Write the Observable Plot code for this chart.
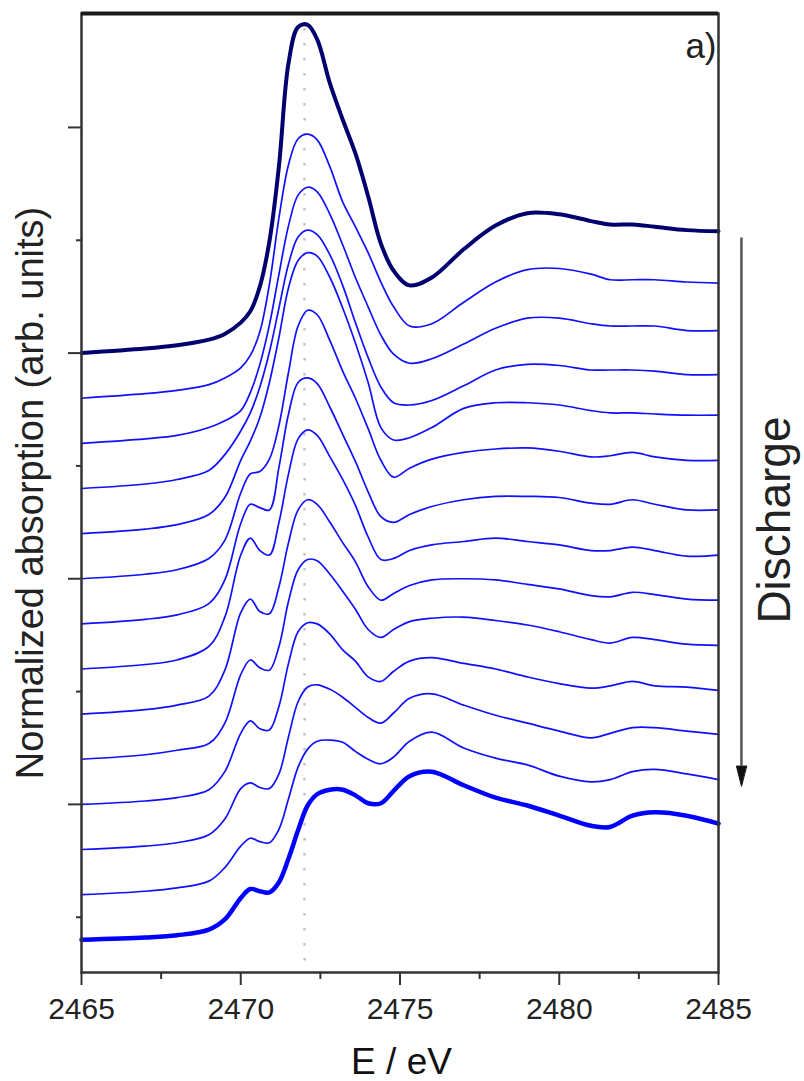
<!DOCTYPE html>
<html>
<head>
<meta charset="utf-8">
<script src="https://cdn.jsdelivr.net/npm/d3@7"></script>
<script src="https://cdn.jsdelivr.net/npm/@observablehq/plot@0.6"></script>
<style>
  html, body { margin: 0; padding: 0; background: #fff; }
  #chart svg { display: block; }
</style>
</head>
<body>
<div id="chart"></div>
<script>
// Photon energy grid (eV)
const energyEV = [2465, 2467, 2468, 2469, 2469.5, 2470, 2470.3, 2470.6, 2470.9, 2471.2, 2471.5, 2471.8,
  2472.1, 2472.4, 2472.8, 2473.2, 2473.6, 2474, 2474.4, 2474.8, 2475.3, 2476, 2477, 2478, 2479, 2480,
  2481, 2481.6, 2482.3, 2483, 2484, 2485];

// Normalized absorption of each spectrum (top = start of discharge, bottom = end)
const spec00 = [0, 0.04, 0.07, 0.12, 0.17, 0.27, 0.37, 0.59, 0.99, 1.66, 2.57, 2.89, 2.91, 2.78, 2.39, 2.07, 1.77, 1.39, 0.97, 0.73, 0.60, 0.67, 0.92, 1.13, 1.24, 1.23, 1.17, 1.14, 1.14, 1.12, 1.09, 1.08];
const spec01 = [0, 0.04, 0.07, 0.12, 0.18, 0.27, 0.38, 0.59, 1.01, 1.60, 2.07, 2.30, 2.34, 2.29, 2.05, 1.74, 1.52, 1.29, 1.03, 0.81, 0.64, 0.66, 0.85, 1.03, 1.14, 1.15, 1.10, 1.05, 1.05, 1.05, 1.03, 1.02];
const spec02 = [0, 0.04, 0.07, 0.14, 0.20, 0.29, 0.45, 0.70, 1.05, 1.50, 1.93, 2.20, 2.27, 2.23, 2.03, 1.76, 1.47, 1.21, 0.96, 0.79, 0.71, 0.75, 0.88, 1.02, 1.11, 1.11, 1.06, 1.04, 1.04, 1.04, 1.00, 1.00];
const spec03 = [0, 0.04, 0.08, 0.16, 0.30, 0.51, 0.67, 0.90, 1.21, 1.60, 1.99, 2.23, 2.29, 2.25, 2.07, 1.80, 1.47, 1.16, 0.90, 0.76, 0.74, 0.78, 0.91, 1.05, 1.10, 1.09, 1.05, 1.05, 1.05, 1.04, 1.01, 1.01];
const spec04 = [0, 0.04, 0.08, 0.17, 0.32, 0.65, 0.82, 1.03, 1.34, 1.74, 2.18, 2.42, 2.49, 2.46, 2.27, 2.00, 1.69, 1.34, 0.94, 0.83, 0.85, 0.94, 1.11, 1.16, 1.16, 1.14, 1.09, 1.07, 1.07, 1.06, 1.05, 1.05];
const spec05 = [0, 0.04, 0.08, 0.18, 0.34, 0.76, 0.93, 0.95, 1.06, 1.36, 1.83, 2.24, 2.38, 2.34, 2.11, 1.84, 1.60, 1.33, 1.05, 0.90, 0.98, 1.06, 1.12, 1.15, 1.16, 1.13, 1.08, 1.09, 1.12, 1.08, 1.05, 1.05];
const spec06 = [0, 0.04, 0.08, 0.18, 0.39, 0.89, 1.06, 1.03, 1.01, 1.39, 1.86, 2.14, 2.18, 2.13, 1.92, 1.68, 1.44, 1.17, 0.95, 0.90, 0.97, 1.04, 1.10, 1.13, 1.13, 1.12, 1.07, 1.06, 1.10, 1.06, 1.01, 1.01];
const spec07 = [0, 0.04, 0.08, 0.20, 0.46, 1.01, 1.16, 1.05, 1.01, 1.30, 1.73, 2.04, 2.12, 2.07, 1.88, 1.68, 1.45, 1.17, 0.97, 0.98, 1.05, 1.10, 1.13, 1.16, 1.13, 1.10, 1.05, 1.05, 1.08, 1.05, 1.00, 1.01];
const spec08 = [0, 0.04, 0.08, 0.16, 0.39, 0.90, 1.02, 0.91, 0.89, 1.13, 1.52, 1.81, 1.90, 1.86, 1.70, 1.52, 1.35, 1.13, 1.01, 1.07, 1.14, 1.19, 1.20, 1.19, 1.15, 1.11, 1.05, 1.04, 1.08, 1.06, 1.02, 1.01];
const spec09 = [0, 0.04, 0.08, 0.14, 0.32, 0.75, 0.88, 0.81, 0.79, 1.00, 1.40, 1.68, 1.77, 1.76, 1.64, 1.49, 1.33, 1.15, 1.08, 1.15, 1.22, 1.25, 1.26, 1.23, 1.19, 1.13, 1.06, 1.03, 1.08, 1.06, 1.02, 1.01];
const spec10 = [0, 0.03, 0.06, 0.13, 0.29, 0.63, 0.74, 0.67, 0.66, 0.87, 1.25, 1.53, 1.61, 1.60, 1.51, 1.37, 1.27, 1.13, 1.09, 1.18, 1.27, 1.30, 1.25, 1.20, 1.13, 1.07, 1.03, 1.05, 1.09, 1.05, 1.04, 1.01];
const spec11 = [0, 0.03, 0.06, 0.13, 0.27, 0.54, 0.59, 0.55, 0.54, 0.67, 1.00, 1.31, 1.44, 1.46, 1.42, 1.35, 1.26, 1.17, 1.12, 1.21, 1.34, 1.38, 1.28, 1.19, 1.12, 1.05, 0.99, 1.03, 1.08, 1.08, 1.05, 1.02];
const spec12 = [0, 0.03, 0.06, 0.12, 0.24, 0.43, 0.50, 0.47, 0.46, 0.58, 0.85, 1.13, 1.29, 1.36, 1.37, 1.35, 1.27, 1.20, 1.16, 1.22, 1.36, 1.44, 1.30, 1.21, 1.15, 1.05, 1.00, 1.02, 1.09, 1.11, 1.07, 1.02];
const spec13 = [0, 0.02, 0.04, 0.09, 0.18, 0.37, 0.45, 0.43, 0.42, 0.51, 0.72, 0.97, 1.19, 1.29, 1.33, 1.33, 1.28, 1.21, 1.21, 1.32, 1.45, 1.49, 1.37, 1.26, 1.19, 1.10, 1.01, 1.00, 1.10, 1.13, 1.10, 1.03];

// Vertical stacking offsets
const offsets = [5.0, 4.6, 4.2, 3.8, 3.4, 3.0, 2.6, 2.2, 1.8, 1.4, 1.0, 0.6, 0.2, -0.2];

// Axis ticks
const xMajorTicks = [2465, 2470, 2475, 2480, 2485];
const xMinorTicks = [2467.5, 2472.5, 2477.5, 2482.5];
const yMajorTicks = [1, 3, 5, 7];
const yMinorTicks = [0, 2, 4, 6];
const xDomain = [2465, 2485];
const yDomain = [-0.49, 8.01];

// Annotations
const referenceEnergy = 2472.0;
const arrowE = 2485.72, arrowTop = 6.02, arrowHeadBase = 1.34;
const dischargeE = 2486.79, dischargeY = 3.52;
const panelLabel = "a)";

const spectra = [spec00, spec01, spec02, spec03, spec04, spec05, spec06, spec07, spec08, spec09, spec10, spec11, spec12, spec13];
const rows = spectra.flatMap((s, i) => s.map((v, k) => ({E: energyEV[k], A: offsets[i] + v, series: i})));
const nLast = spectra.length - 1;
const topRows = rows.filter(d => d.series === 0);
const bottomRows = rows.filter(d => d.series === nLast);
const midRows = rows.filter(d => d.series > 0 && d.series < nLast);

const triangle = {
  draw(context, l, r) {
    context.moveTo(-r, 0);
    context.lineTo(r, 0);
    context.lineTo(0, -l);
    context.closePath();
  }
};

const font = "'Liberation Sans', Arial, Helvetica, sans-serif";

const chart = Plot.plot({
  width: 804,
  height: 1081,
  marginLeft: 81,
  marginRight: 86,
  marginTop: 13,
  marginBottom: 109,
  x: {domain: xDomain},
  y: {domain: yDomain},
  style: {fontFamily: font, background: "#fff", color: "#222", overflow: "visible"},
  marks: [
    Plot.ruleX([referenceEnergy], {stroke: "#bdbdbd", strokeWidth: 2.2, strokeDasharray: "2.5,12.5"}),
    Plot.line(midRows, {x: "E", y: "A", z: "series", stroke: "#1010ff", strokeWidth: 1.7, curve: "catmull-rom"}),
    Plot.line(topRows, {x: "E", y: "A", stroke: "#00006e", strokeWidth: 4, curve: "catmull-rom"}),
    Plot.line(bottomRows, {x: "E", y: "A", stroke: "#0000ff", strokeWidth: 4.5, curve: "catmull-rom"}),
    Plot.frame({stroke: "#333", strokeWidth: 2.5}),
    Plot.ruleY([yDomain[1]], {stroke: "#1a1a1a", strokeWidth: 4}),
    Plot.axisX({ticks: xMajorTicks, tickSize: 13, tickPadding: 12, fontSize: 30, tickFormat: d => String(d), label: null, stroke: "#333", strokeWidth: 2, fill: "#222"}),
    Plot.axisX({ticks: xMinorTicks, tickSize: 7, tickFormat: () => "", label: null, stroke: "#333", strokeWidth: 2}),
    Plot.axisY({ticks: yMajorTicks, tickSize: 13, tickFormat: () => "", label: null, stroke: "#333", strokeWidth: 2}),
    Plot.axisY({ticks: yMinorTicks, tickSize: 5, tickFormat: () => "", label: null, stroke: "#333", strokeWidth: 2}),
    Plot.text(["Normalized absorption (arb. units)"], {frameAnchor: "left", textAnchor: "middle", lineAnchor: "middle", rotate: -90, dx: -51, fontSize: 38, fill: "#222"}),
    Plot.text(["E / eV"], {frameAnchor: "bottom", lineAnchor: "bottom", dy: 101, dx: 1.5, fontSize: 37, fill: "#111"}),
    Plot.text([panelLabel], {frameAnchor: "top-right", textAnchor: "end", dx: -2, dy: 20, fontSize: 35, fill: "#222"}),
    Plot.ruleX([{E: arrowE, y1: arrowTop, y2: arrowHeadBase}], {x: "E", y1: "y1", y2: "y2", stroke: "#555", strokeWidth: 2.5}),
    Plot.vector([{E: arrowE, A: arrowHeadBase}], {x: "E", y: "A", length: 20, r: 5, rotate: 180, anchor: "start", shape: triangle, fill: "#111", stroke: "#111", strokeWidth: 1}),
    Plot.text([{E: dischargeE, A: dischargeY, t: "Discharge"}], {x: "E", y: "A", text: "t", rotate: -90, fontSize: 46, fill: "#222"})
  ]
});

document.getElementById("chart").appendChild(chart);
</script>
</body>
</html>
